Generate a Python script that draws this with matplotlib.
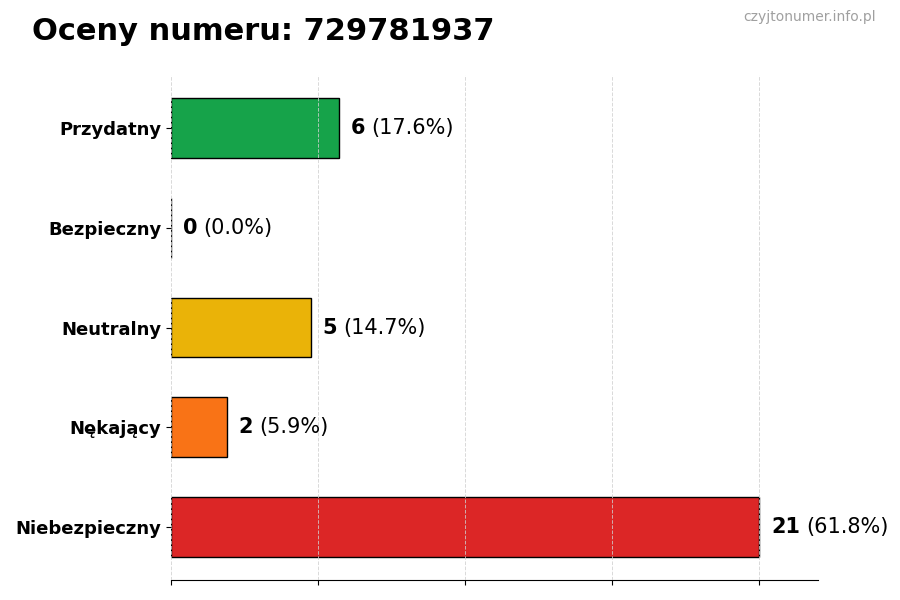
import matplotlib
matplotlib.use("Agg")
import matplotlib.pyplot as plt
import numpy as np

# dane z wykresu (od dołu do góry)
categories = ["Niebezpieczny", "Nękający", "Neutralny", "Bezpieczny", "Przydatny"]
counts = [21, 2, 5, 0, 6]
colors = ["#dc2626", "#f97316", "#eab308", "#9ca3af", "#16a34a"]
phone = "729781937"
watermark = "czyjtonumer.info.pl"

total = sum(counts)
max_val = max(counts)

fig = plt.figure(figsize=(9, 6), dpi=100)
ax = fig.add_axes([0.19, 0.0333, 0.719, 0.8417])

y = np.arange(len(categories))
ax.barh(y, counts, height=0.6, color=colors, edgecolor="black",
        linewidth=1, zorder=2)

ax.set_yticks(y)
ax.set_yticklabels(categories, fontsize=13, fontweight="bold")
ax.set_xlim(0, max_val * 1.1)
ax.set_xticks(np.linspace(0, max_val, 5))
ax.set_xticklabels([])
ax.grid(axis="x", linestyle="--", color="#d0d0d0", linewidth=0.7,
        alpha=0.8, zorder=3)
ax.set_axisbelow(False)
for side in ["top", "right", "left"]:
    ax.spines[side].set_visible(False)

# etykiety: liczba pogrubiona + procent
fig.canvas.draw()
renderer = fig.canvas.get_renderer()
offset = max_val * 0.02
for yi, c in zip(y, counts):
    pct = c / total * 100 if total else 0
    t = ax.text(c + offset, yi, str(c), va="center", ha="left",
                fontsize=15, fontweight="bold")
    bb = t.get_window_extent(renderer=renderer)
    x_next = ax.transData.inverted().transform((bb.x1, bb.y0))[0]
    ax.annotate(f"({pct:.1f}%)", xy=(x_next, yi), xytext=(4.5, 0),
                textcoords="offset points", va="center", ha="left",
                fontsize=15, annotation_clip=False)

fig.text(0.036, 0.947, f"Oceny numeru: {phone}", fontsize=22,
         fontweight="bold", va="center", ha="left")
fig.text(0.973, 0.971, watermark, fontsize=10, color="#a0a0a0",
         va="center", ha="right")

fig.savefig("out.png", dpi=100)
